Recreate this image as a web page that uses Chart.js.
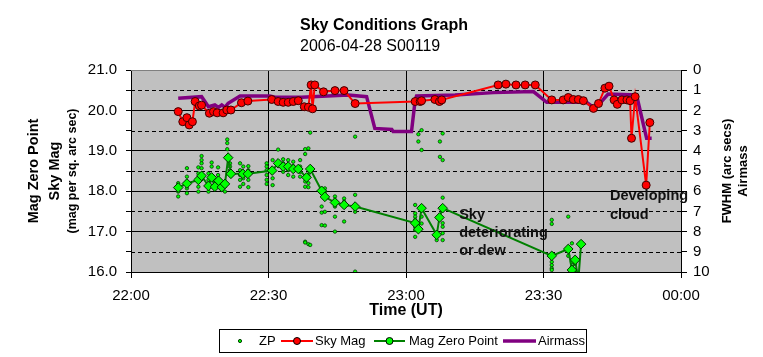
<!DOCTYPE html>
<html><head><meta charset="utf-8">
<script src="https://cdn.jsdelivr.net/npm/chart.js@4.4.1/dist/chart.umd.min.js"></script>
<style>html,body{margin:0;padding:0;background:#fff}canvas{display:block}</style>
</head><body>
<canvas id="c" width="763" height="357"></canvas>
<script>
// Time axis: minutes after 22:00 UT
const xTickLabels = ['22:00', '22:30', '23:00', '23:30', '00:00'];

// ZP (individual zero point measurements, small dots)
const zpTime = [
  10.3,10.3,10.3,10.3, 12.2,12.2,12.2,12.2,12.2, 14.7,14.7,14.7,14.7,14.7, 15.4,15.4,15.4,15.4,
  16.9,16.9,16.9,16.9, 17.6,17.6, 19.0,19.0, 20.5, 21.0,21.0,21.0, 21.6,21.6,21.6,
  23.8,23.8,23.8,23.8,23.8, 24.5,24.5,24.5,24.5, 25.6,25.6,25.6,25.6,
  29.6,29.6,29.6,29.6,29.6,29.6, 30.9,30.9,30.9,30.9, 32.1, 33.2,33.2,33.2,33.2,
  34.3,34.3,34.3,34.3, 35.4,35.4,35.4,35.4, 36.9,36.9,36.9,36.9,
  38.0,38.0,38.0,38.0,38.0,38.0,38.0, 38.7,38.7,38.7,38.7,38.7, 39.1,39.1,
  41.6,41.6,41.6, 42.3,42.3,42.3,42.3, 44.5,44.5,44.5,44.5,44.5, 46.5,46.5,46.5,46.5,
  48.9,48.9,48.9,48.9,
  62.0,62.0,62.0,62.0,62.0,62.0,62.0, 62.7,62.7, 63.4,63.4,63.4,63.4, 66.7,66.7, 67.4,67.4,
  68.0,68.0,68.0,68.0,68.0,68.0,68.0,
  91.8,91.8,91.8,91.8,91.8,91.8, 95.4,95.4, 96.2,96.2,96.2, 96.9,96.9
];
const zpMag = [
  18.20,18.13,17.99,17.87, 18.57,18.36,18.24,18.07,17.95, 18.59,18.44,18.28,18.11,17.99, 18.87,18.77,18.69,18.57,
  18.44,18.28,18.11,17.99, 18.71,18.61, 18.59,18.40, 17.99, 19.28,19.19,19.04, 18.69,18.61,18.52,
  18.69,18.52,18.40,18.28,18.11, 18.61,18.48,18.32,18.18, 18.62,18.52,18.28,18.10,
  18.69,18.61,18.52,18.40,18.28,18.18, 18.77,18.52,18.32,18.15, 19.03, 18.79,18.69,18.59,18.48,
  18.77,18.65,18.52,18.40, 18.73,18.62,18.52,18.36, 18.77,18.61,18.48,18.36,
  19.04,18.92,18.36,18.24,18.11,16.75,16.73, 19.06,18.40,18.20,18.10,16.69, 19.45,16.67,
  17.62,17.47,17.16, 18.07,17.99,17.49,17.15, 17.87,17.78,17.62,17.37,17.00, 17.82,17.74,17.62,17.25,
  19.35,17.91,17.49,16.01,
  17.66,17.45,17.37,17.29,17.12,17.04,16.87, 19.41,19.23, 19.51,19.02,17.37,17.20, 16.87,16.79, 19.23,18.85,
  19.43,18.77,17.84,17.21,17.12,16.96,16.79,
  17.29,17.19,16.25,16.17,16.09,16.05, 17.37,16.40, 16.71,16.25,16.13, 16.20,16.05
];

// Sky Mag
const skyTime = [
  10.3,11.3,12.2,12.7,13.4,14.0,14.9,15.4,17.1,18.0,18.8,20.1,20.9,21.8,24.1,25.5,30.7,
  32.1,33.2,34.3,35.4,36.5,37.8,38.7,39.3,39.6,40.1,42.0,44.5,46.5,48.9,
  62.0,63.1,63.4,66.3,67.3,67.8,80.1,81.8,84.0,86.0,88.2,
  91.8,94.3,95.4,96.5,97.6,98.7,100.9,102.0,103.4,104.3,105.4,106.1,107.1,108.2,108.9,
  109.2,110.0,112.4,113.2
];
const skyMag = [
  19.97,19.72,19.82,19.64,19.72,20.22,20.11,20.13,19.93,19.97,19.94,19.94,20.01,20.01,20.19,20.23,20.27,
  20.22,20.20,20.20,20.22,20.24,20.09,20.08,20.63,20.04,20.63,20.46,20.49,20.49,20.17,
  20.22,20.22,20.24,20.27,20.22,20.26,20.63,20.65,20.63,20.63,20.63,
  20.26,20.26,20.32,20.27,20.27,20.24,20.05,20.17,20.55,20.60,20.26,20.15,20.26,20.26,20.24,
  19.31,20.34,18.15,19.70
];

// Mag Zero Point (averaged)
const mzpTime = [
  10.3,12.2,14.7,15.4,16.9,17.6,18.3,19.1,19.8,20.5,21.2,21.8,24.4,25.5,
  30.8,32.1,33.2,34.3,35.4,36.5,38.3,39.1,41.6,42.3,44.5,46.5,48.9,
  62.0,62.7,63.4,66.7,67.3,68.0,91.8,95.4,96.2,96.9,97.6,98.2
];
const mzpMag = [
  18.09,18.19,18.28,18.38,18.13,18.34,18.11,18.26,18.10,18.18,18.83,18.43,18.43,18.43,
  18.51,18.69,18.61,18.61,18.55,18.55,18.34,18.55,18.01,17.86,17.72,17.66,17.62,
  17.21,17.06,17.58,16.92,17.35,17.58,16.40,16.57,16.05,16.30,15.80,16.69
];

// Airmass (right axis)
const airTime = [
  10.3,15.4,16.9,18.3,19.1,19.8,20.5,21.2,23.8,30.3,31.4,37.2,39.4,47.4,51.4,53.2,56.9,57.2,
  61.2,62.0,62.3,70.7,79.1,87.8,90.7,99.4,100.9,102.3,104.1,110.3,112.5,113.6
];
const airmass = [
  1.40,1.32,1.82,1.73,1.85,1.73,1.85,1.65,1.29,1.29,1.35,1.35,1.32,1.24,1.32,2.89,2.94,3.05,
  3.05,1.49,1.29,1.24,1.12,1.07,1.60,1.60,1.85,1.65,1.19,1.24,3.38,3.38
];

const pts = (xs, ys) => xs.map((x, i) => ({x: x, y: ys[i]}));

const FONT = '"Liberation Sans", Arial, sans-serif';

const decor = {
  id: 'decor',
  beforeDraw(chart) {
    const ctx = chart.ctx, a = chart.chartArea;
    ctx.save();
    ctx.fillStyle = '#ffffff';
    ctx.fillRect(0, 0, chart.width, chart.height);
    ctx.fillStyle = '#c0c0c0';
    ctx.fillRect(a.left, a.top, a.right - a.left, a.bottom - a.top);
    ctx.restore();
  },
  beforeDatasetsDraw(chart) {
    const ctx = chart.ctx, a = chart.chartArea, y = chart.scales.y;
    ctx.save();
    ctx.strokeStyle = '#000';
    ctx.lineWidth = 1;
    ctx.setLineDash([4, 3]);
    for (let v = 16.5; v < 21; v += 1) {
      const py = Math.round(y.getPixelForValue(v)) + 0.5;
      ctx.beginPath(); ctx.moveTo(a.left, py); ctx.lineTo(a.right, py); ctx.stroke();
    }
    ctx.setLineDash([]);
    ctx.strokeStyle = '#808080';
    const ty = Math.round(a.top) + 0.5;
    ctx.beginPath(); ctx.moveTo(a.left, ty); ctx.lineTo(a.right, ty); ctx.stroke();
    ctx.restore();
  },
  afterDraw(chart) {
    const ctx = chart.ctx, a = chart.chartArea;
    const xs = chart.scales.x, ys = chart.scales.y;
    ctx.save();
    ctx.fillStyle = '#000';
    // Title
    ctx.textAlign = 'left'; ctx.textBaseline = 'alphabetic';
    ctx.font = 'bold 16px ' + FONT;
    ctx.fillText('Sky Conditions Graph', 300, 30);
    ctx.font = '16px ' + FONT;
    ctx.fillText('2006-04-28 S00119', 300, 51);
    // x axis title
    ctx.textAlign = 'center';
    ctx.font = 'bold 16px ' + FONT;
    ctx.fillText('Time (UT)', (a.left + a.right) / 2, 315);
    // left / right axis titles
    const cy = (a.top + a.bottom) / 2;
    const rot = (txt, x, font) => {
      ctx.save(); ctx.translate(x, cy); ctx.rotate(-Math.PI / 2);
      ctx.font = font; ctx.textAlign = 'center'; ctx.textBaseline = 'middle';
      ctx.fillText(txt, 0, 0); ctx.restore();
    };
    rot('Mag Zero Point', 34, 'bold 14.5px ' + FONT);
    rot('Sky Mag', 55, 'bold 14.5px ' + FONT);
    rot('(mag per sq. arc sec)', 73, 'bold 12.5px ' + FONT);
    rot('FWHM (arc secs)', 727, 'bold 13px ' + FONT);
    rot('Airmass', 743, 'bold 13px ' + FONT);
    // annotations
    ctx.textAlign = 'left'; ctx.textBaseline = 'middle';
    ctx.font = 'bold 14.5px ' + FONT;
    ctx.fillStyle = '#111';
    const sx = xs.getPixelForValue(71.6);
    ctx.fillText('Sky', sx, ys.getPixelForValue(17.40));
    ctx.fillText('deteriorating', sx, ys.getPixelForValue(16.97));
    ctx.fillText('or dew', sx, ys.getPixelForValue(16.53));
    const dx = xs.getPixelForValue(104.5);
    ctx.fillText('Developing', dx, ys.getPixelForValue(17.87));
    ctx.fillText('cloud', dx, ys.getPixelForValue(17.42));
    // legend
    ctx.fillStyle = '#000';
    ctx.strokeStyle = '#000'; ctx.lineWidth = 1;
    ctx.strokeRect(219.5, 329.5, 367, 23);
    const ly = 341;
    ctx.font = '13px ' + FONT; ctx.textBaseline = 'middle';
    const ds = chart.data.datasets;
    // ZP
    ctx.beginPath(); ctx.arc(240, ly, 1.6, 0, Math.PI * 2);
    ctx.fillStyle = ds[0].pointBackgroundColor; ctx.fill();
    ctx.strokeStyle = ds[0].pointBorderColor; ctx.stroke();
    ctx.fillStyle = '#000'; ctx.fillText('ZP', 259, ly);
    const lineItem = (x0, x1, d, label, tx, marker) => {
      ctx.strokeStyle = d.borderColor; ctx.lineWidth = d.borderWidth;
      ctx.beginPath(); ctx.moveTo(x0, ly); ctx.lineTo(x1, ly); ctx.stroke();
      if (marker) {
        ctx.beginPath(); ctx.arc((x0 + x1) / 2, ly, 3.5, 0, Math.PI * 2);
        ctx.fillStyle = d.pointBackgroundColor; ctx.fill();
        ctx.lineWidth = 1; ctx.strokeStyle = '#000'; ctx.stroke();
      }
      ctx.fillStyle = '#000'; ctx.fillText(label, tx, ly);
    };
    lineItem(281, 313, ds[1], 'Sky Mag', 315, true);
    lineItem(374, 405, ds[2], 'Mag Zero Point', 409, true);
    lineItem(503, 536, ds[3], 'Airmass', 538, false);
    ctx.restore();
  }
};

const isInt = v => Math.abs(v - Math.round(v)) < 1e-6;

new Chart(document.getElementById('c'), {
  type: 'scatter',
  data: {
    datasets: [
      { label: 'ZP', data: pts(zpTime, zpMag), showLine: false, yAxisID: 'y',
        pointRadius: 1.7, pointBackgroundColor: '#00ff00', pointBorderColor: '#004000',
        pointBorderWidth: 0.8, order: 3 },
      { label: 'Sky Mag', data: pts(skyTime, skyMag), showLine: true, yAxisID: 'y',
        borderColor: '#ff0000', borderWidth: 2, tension: 0,
        pointRadius: 4, pointBackgroundColor: '#ff0000', pointBorderColor: '#400000',
        pointBorderWidth: 1, order: 0 },
      { label: 'Mag Zero Point', data: pts(mzpTime, mzpMag), showLine: true, yAxisID: 'y',
        borderColor: '#008000', borderWidth: 2, tension: 0, pointStyle: 'rectRot',
        pointRadius: 4.8, pointBackgroundColor: '#00ff00', pointBorderColor: '#003000',
        pointBorderWidth: 1, order: 2 },
      { label: 'Airmass', data: pts(airTime, airmass), showLine: true, yAxisID: 'y2',
        borderColor: '#800080', borderWidth: 3.5, tension: 0, pointRadius: 0, order: 1 }
    ]
  },
  options: {
    responsive: false,
    animation: false,
    events: [],
    layout: { padding: { top: 70, left: 0, right: 0, bottom: 0 } },
    plugins: { legend: { display: false }, title: { display: false }, tooltip: { enabled: false } },
    scales: {
      x: {
        type: 'linear', min: 0, max: 120, position: 'bottom',
        afterFit: s => { s.height = 85; },
        ticks: { stepSize: 30, autoSkip: false, maxRotation: 0, padding: 9,
          color: '#000', font: { family: FONT, size: 15 },
          callback: v => xTickLabels[Math.round(v / 30)] },
        grid: { color: '#000', lineWidth: 1, tickLength: 6, tickColor: '#000' },
        border: { color: '#000', width: 1 }
      },
      y: {
        min: 16, max: 21, position: 'left',
        afterFit: s => { s.width = 131; },
        ticks: { stepSize: 0.5, autoSkip: false, padding: 9, color: '#000',
          font: { family: FONT, size: 15 },
          callback: v => isInt(v) ? Number(v).toFixed(1) : '' },
        grid: { color: c => (c.tick && isInt(c.tick.value) && c.tick.value < 20.99) ? '#000' : 'rgba(0,0,0,0)',
          tickColor: '#000', tickLength: 5, lineWidth: 1 },
        border: { color: '#000', width: 1 }
      },
      y2: {
        min: 0, max: 10, reverse: true, position: 'right',
        afterFit: s => { s.width = 82; },
        ticks: { stepSize: 1, autoSkip: false, padding: 6, color: '#000',
          font: { family: FONT, size: 15 } },
        grid: { drawOnChartArea: false, tickColor: '#000', tickLength: 6 },
        border: { color: '#000', width: 1 }
      }
    }
  },
  plugins: [decor]
});
</script>
</body></html>
